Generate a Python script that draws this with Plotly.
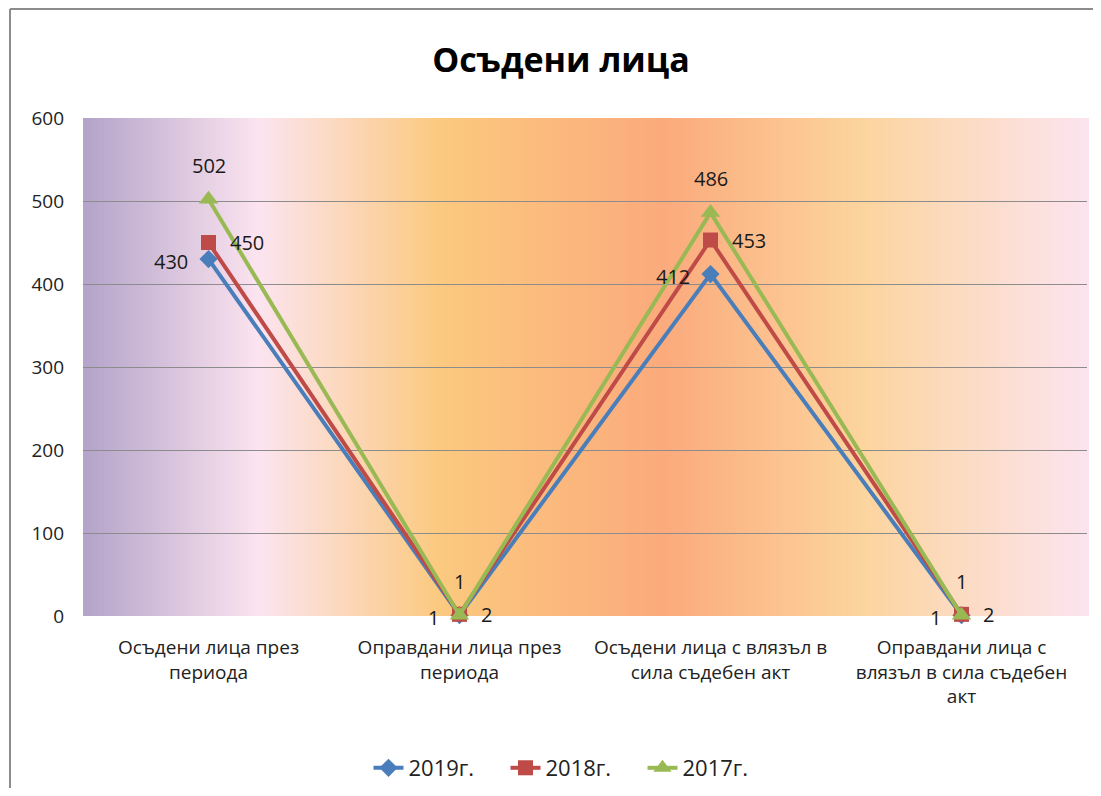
import plotly.graph_objects as go

categories = [
    "Осъдени лица през<br>периода",
    "Оправдани лица през<br>периода",
    "Осъдени лица с влязъл в<br>сила съдебен акт",
    "Оправдани лица с<br>влязъл в сила съдебен<br>акт",
]
series_names = ["2019г.", "2018г.", "2017г."]
v2019 = [430, 1, 412, 1]
v2018 = [450, 2, 453, 2]
v2017 = [502, 1, 486, 1]
y_ticks = [0, 100, 200, 300, 400, 500, 600]

FONT = "Open Sans"
W, H = 1085, 780          # page body has an 8px margin
OFF = 8
# plot area in window pixels
PL, PR, PT, PB = 83, 1087, 118, 616

fig = go.Figure()
styles = [
    (v2019, "#4a7ebb", "diamond", 14),
    (v2018, "#be4b48", "square", 15),
    (v2017, "#98b954", "triangle-up", 17),
]
for name, (vals, col, sym, ms) in zip(series_names, styles):
    fig.add_trace(go.Scatter(
        x=list(range(len(categories))), y=vals, name=name,
        mode="lines+markers",
        line=dict(color=col, width=4),
        marker=dict(symbol=sym, size=ms, color=col),
        cliponaxis=False,
    ))

# data labels
label_pos = [
    (v2019, dict(xanchor="right", yanchor="middle", xshift=-19, yshift=-2)),
    (v2018, dict(xanchor="left", yanchor="middle", xshift=19, yshift=0)),
    (v2017, dict(xanchor="center", yanchor="middle", xshift=0, yshift=34)),
]
annotations = []
for vals, pos in label_pos:
    for i, v in enumerate(vals):
        annotations.append(dict(x=i, y=v, xref="x", yref="y", text=str(v), showarrow=False,
                                font=dict(family=FONT, size=20, color="#1a1a1a"), **pos))

# gradient background of plot area
stops = [
    (0.0, (0xb3, 0xa3, 0xc9)),
    (0.176, (0xfc, 0xe4, 0xef)),
    (0.356, (0xfb, 0xc9, 0x7f)),
    (0.578, (0xfb, 0xaa, 0x7c)),
    (0.774, (0xfc, 0xd4, 0x9d)),
    (1.0, (0xfc, 0xe4, 0xef)),
]

def color_at(t):
    for (t0, c0), (t1, c1) in zip(stops[:-1], stops[1:]):
        if t0 <= t <= t1:
            f = (t - t0) / (t1 - t0) if t1 > t0 else 0
            return "rgb(%d,%d,%d)" % tuple(round(a + (b - a) * f) for a, b in zip(c0, c1))
    return "rgb(%d,%d,%d)" % stops[-1][1]

N = 250
shapes = []
for i in range(N):
    t0 = i / N
    t1 = (i + 1) / N
    shapes.append(dict(type="rect", xref="paper", yref="paper", x0=t0, x1=t1 + 0.002,
                       y0=0, y1=1, fillcolor=color_at((t0 + t1) / 2),
                       line=dict(width=0), layer="below"))

pw, ph = PR - PL, PB - PT
def px(x):
    return (x - PL) / pw
def py(y):
    return (PB - y) / ph

# chart border (left and top)
shapes.append(dict(type="line", xref="paper", yref="paper",
                   x0=px(10), x1=px(10), y0=py(800), y1=py(9),
                   line=dict(color="#8c8c8c", width=2)))
shapes.append(dict(type="line", xref="paper", yref="paper",
                   x0=px(10), x1=px(1101), y0=py(9), y1=py(9),
                   line=dict(color="#8c8c8c", width=2)))

fig.update_layout(
    width=W, height=H,
    margin=dict(l=PL - OFF, r=W - (PR - OFF), t=PT - OFF, b=H - (PB - OFF), autoexpand=False),
    paper_bgcolor="white", plot_bgcolor="rgba(0,0,0,0)",
    shapes=shapes, annotations=annotations,
    title=dict(text="<b>Осъдени лица</b>", x=(561 - OFF) / W, xanchor="center",
               y=1 - (60 - OFF) / H, yanchor="middle", xref="container", yref="container",
               font=dict(family=FONT, size=34, color="black")),
    xaxis=dict(tickmode="array", tickvals=list(range(len(categories))), ticktext=categories,
               range=[-0.5, 3.5], showgrid=False, zeroline=False, showline=False,
               ticks="", ticklabelstandoff=18,
               tickfont=dict(family=FONT, size=19, color="#222")),
    yaxis=dict(range=[0, 600], tickvals=y_ticks, showgrid=True, gridcolor="#8c8c8c",
               gridwidth=1, zeroline=False, showline=False, ticks="", ticklabelstandoff=18,
               tickfont=dict(family=FONT, size=19, color="#222")),
    legend=dict(orientation="h", x=px(574), xanchor="center",
                y=py(768), yanchor="middle", entrywidth=92, entrywidthmode="pixels",
                font=dict(family=FONT, size=22, color="#222")),
    showlegend=True,
)

fig.write_html("out.html")
